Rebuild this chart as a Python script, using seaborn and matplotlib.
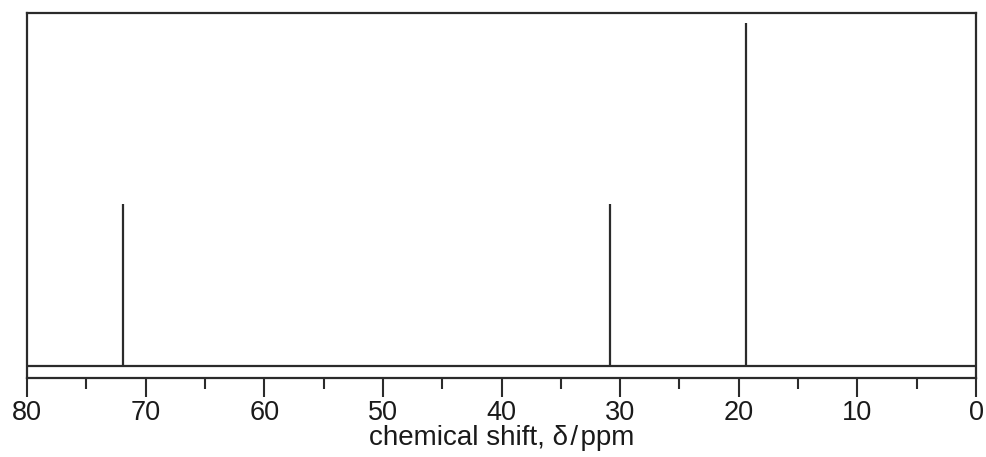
import numpy as np
import matplotlib
matplotlib.use("Agg")
import matplotlib.pyplot as plt
import seaborn as sns

# 13C NMR peaks (ppm) and relative heights
shifts = [71.9, 30.85, 19.35]
heights = [0.472, 0.472, 1.0]
major_ticks = [80, 70, 60, 50, 40, 30, 20, 10, 0]
minor_ticks = [75, 65, 55, 45, 35, 25, 15, 5]


def main():
    sns.set_style("white")
    plt.rcParams['font.family'] = ['Liberation Sans', 'DejaVu Sans']

    fig = plt.figure(figsize=(9.86, 4.57), dpi=100)
    ax = fig.add_axes([0.0274, 0.1729, 0.9625, 0.7987])

    ink = "#2b2b2b"
    ax.axhline(0, color=ink, lw=1.6)
    ax.vlines(shifts, 0, heights, color=ink, lw=1.6)

    ax.set_xlim(80, 0)
    ax.set_ylim(-0.035, 1.029)
    ax.set_yticks([])
    ax.set_xticks(major_ticks)
    ax.set_xticks(minor_ticks, minor=True)
    ax.tick_params(axis='x', which='major', direction='out', length=14, width=1.5,
                   color=ink, labelcolor="#1a1a1a", labelsize=19.5, pad=2, bottom=True)
    ax.tick_params(axis='x', which='minor', direction='out', length=8, width=1.5,
                   color=ink, bottom=True)
    for s in ax.spines.values():
        s.set_color(ink)
        s.set_linewidth(1.6)

    ax.set_xlabel("chemical shift, δ\u200a/\u200appm", fontsize=20, color="#1a1a1a",
                  labelpad=-1)

    fig.savefig("out.png", dpi=100)


if __name__ == "__main__":
    main()
